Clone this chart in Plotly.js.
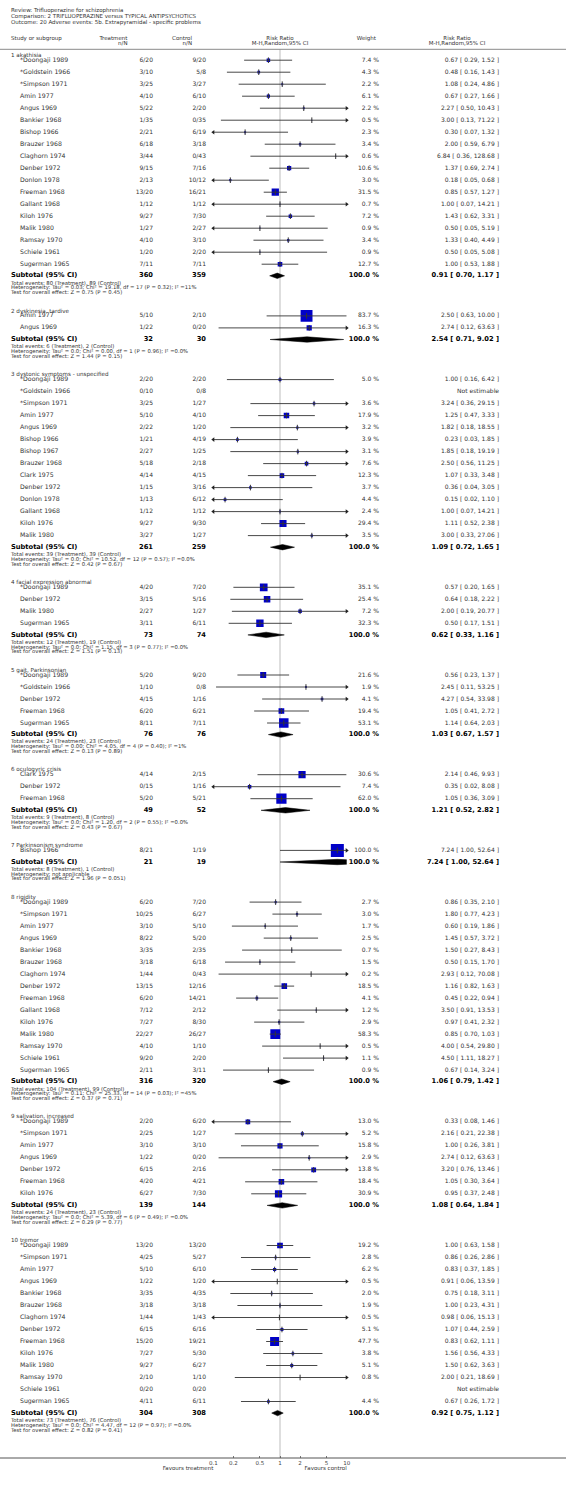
<!DOCTYPE html>
<html>
<head>
<meta charset="utf-8">
<script src="https://cdn.plot.ly/plotly-3.0.1.min.js"></script>
<style>html,body{margin:0;padding:0;background:#fff;}#chart{width:566px;height:1488px;}</style>
</head>
<body>
<div id="chart"></div>
<script>
// ---------------- DATA ----------------
const headerLines = ["Review: Trifluoperazine for schizophrenia",
  "Comparison: 2 TRIFLUOPERAZINE versus TYPICAL ANTIPSYCHOTICS",
  "Outcome: 20 Adverse events: 5b. Extrapyramidal - specific problems"];

const groupTitles = ["1 akathisia","2 dyskinesia, tardive","3 dystonic symptoms - unspecified",
  "4 facial expression abnormal","5 gait, Parkinsonian","6 oculogyric crisis","7 Parkinsonism syndrome",
  "8 rigidity","9 salivation, increased","10 tremor"];

const studyGroup = [
  1,1,1,1,1,1,1,1,1,1,1,1,1,1,1,1,1,1,
  2,2,
  3,3,3,3,3,3,3,3,3,3,3,3,3,3,
  4,4,4,4,
  5,5,5,5,5,
  6,6,6,
  7,
  8,8,8,8,8,8,8,8,8,8,8,8,8,8,8,
  9,9,9,9,9,9,9,
  10,10,10,10,10,10,10,10,10,10,10,10,10,10];

const studyNames = [
  "*Doongaji 1989","*Goldstein 1966","*Simpson 1971","Amin 1977","Angus 1969","Bankier 1968","Bishop 1966","Brauzer 1968","Claghorn 1974","Denber 1972","Donlon 1978","Freeman 1968","Gallant 1968","Kiloh 1976","Malik 1980","Ramsay 1970","Schiele 1961","Sugerman 1965",
  "Amin 1977","Angus 1969",
  "*Doongaji 1989","*Goldstein 1966","*Simpson 1971","Amin 1977","Angus 1969","Bishop 1966","Bishop 1967","Brauzer 1968","Clark 1975","Denber 1972","Donlon 1978","Gallant 1968","Kiloh 1976","Malik 1980",
  "*Doongaji 1989","Denber 1972","Malik 1980","Sugerman 1965",
  "*Doongaji 1989","*Goldstein 1966","Denber 1972","Freeman 1968","Sugerman 1965",
  "Clark 1975","Denber 1972","Freeman 1968",
  "Bishop 1966",
  "*Doongaji 1989","*Simpson 1971","Amin 1977","Angus 1969","Bankier 1968","Brauzer 1968","Claghorn 1974","Denber 1972","Freeman 1968","Gallant 1968","Kiloh 1976","Malik 1980","Ramsay 1970","Schiele 1961","Sugerman 1965",
  "*Doongaji 1989","*Simpson 1971","Amin 1977","Angus 1969","Denber 1972","Freeman 1968","Kiloh 1976",
  "*Doongaji 1989","*Simpson 1971","Amin 1977","Angus 1969","Bankier 1968","Brauzer 1968","Claghorn 1974","Denber 1972","Freeman 1968","Kiloh 1976","Malik 1980","Ramsay 1970","Schiele 1961","Sugerman 1965"];

const treatNN = [
  "6/20","3/10","3/25","4/10","5/22","1/35","2/21","6/18","3/44","9/15","2/13","13/20","1/12","9/27","1/27","4/10","1/20","7/11",
  "5/10","1/22",
  "2/20","0/10","3/25","5/10","2/22","1/21","2/27","5/18","4/14","1/15","1/13","1/12","9/27","3/27",
  "4/20","3/15","2/27","3/11",
  "5/20","1/10","4/15","6/20","8/11",
  "4/14","0/15","5/20",
  "8/21",
  "6/20","10/25","3/10","8/22","3/35","3/18","1/44","13/15","6/20","7/12","7/27","22/27","4/10","9/20","2/11",
  "2/20","2/25","3/10","1/22","6/15","4/20","6/27",
  "13/20","4/25","5/10","1/22","3/35","3/18","1/44","6/15","15/20","7/27","9/27","2/10","0/20","4/11"];

const controlNN = [
  "9/20","5/8","3/27","6/10","2/20","0/35","6/19","3/18","0/43","7/16","10/12","16/21","1/12","7/30","2/27","3/10","2/20","7/11",
  "2/10","0/20",
  "2/20","0/8","1/27","4/10","1/20","4/19","1/25","2/18","4/15","3/16","6/12","1/12","9/30","1/27",
  "7/20","5/16","1/27","6/11",
  "9/20","0/8","1/16","6/21","7/11",
  "2/15","1/16","5/21",
  "1/19",
  "7/20","6/27","5/10","5/20","2/35","6/18","0/43","12/16","14/21","2/12","8/30","26/27","1/10","2/20","3/11",
  "6/20","1/27","3/10","0/20","2/16","4/21","7/30",
  "13/20","5/27","6/10","1/20","4/35","3/18","1/43","6/16","19/21","5/30","6/27","1/10","0/20","6/11"];

const weights = [
  7.4,4.3,2.2,6.1,2.2,0.5,2.3,3.4,0.6,10.6,3.0,31.5,0.7,7.2,0.9,3.4,0.9,12.7,
  83.7,16.3,
  5.0,null,3.6,17.9,3.2,3.9,3.1,7.6,12.3,3.7,4.4,2.4,29.4,3.5,
  35.1,25.4,7.2,32.3,
  21.6,1.9,4.1,19.4,53.1,
  30.6,7.4,62.0,
  100.0,
  2.7,3.0,1.7,2.5,0.7,1.5,0.2,18.5,4.1,1.2,2.9,58.3,0.5,1.1,0.9,
  13.0,5.2,15.8,2.9,13.8,18.4,30.9,
  19.2,2.8,6.2,0.5,2.0,1.9,0.5,5.1,47.7,3.8,5.1,0.8,null,4.4];

const rrEst = [
  0.67,0.48,1.08,0.67,2.27,3.00,0.30,2.00,6.84,1.37,0.18,0.85,1.00,1.43,0.50,1.33,0.50,1.00,
  2.50,2.74,
  1.00,null,3.24,1.25,1.82,0.23,1.85,2.50,1.07,0.36,0.15,1.00,1.11,3.00,
  0.57,0.64,2.00,0.50,
  0.56,2.45,4.27,1.05,1.14,
  2.14,0.35,1.05,
  7.24,
  0.86,1.80,0.60,1.45,1.50,0.50,2.93,1.16,0.45,3.50,0.97,0.85,4.00,4.50,0.67,
  0.33,2.16,1.00,2.74,3.20,1.05,0.95,
  1.00,0.86,0.83,0.91,0.75,1.00,0.98,1.07,0.83,1.56,1.50,2.00,null,0.67];

const rrLow = [
  0.29,0.16,0.24,0.27,0.50,0.13,0.07,0.59,0.36,0.69,0.05,0.57,0.07,0.62,0.05,0.40,0.05,0.53,
  0.63,0.12,
  0.16,null,0.36,0.47,0.18,0.03,0.18,0.56,0.33,0.04,0.02,0.07,0.52,0.33,
  0.20,0.18,0.19,0.17,
  0.23,0.11,0.54,0.41,0.64,
  0.46,0.02,0.36,
  1.00,
  0.35,0.77,0.19,0.57,0.27,0.15,0.12,0.82,0.22,0.91,0.41,0.70,0.54,1.11,0.14,
  0.08,0.21,0.26,0.12,0.76,0.30,0.37,
  0.63,0.26,0.37,0.06,0.18,0.23,0.06,0.44,0.62,0.56,0.62,0.21,null,0.26];

const rrHigh = [
  1.52,1.43,4.86,1.66,10.43,71.22,1.32,6.79,128.68,2.74,0.68,1.27,14.21,3.31,5.19,4.49,5.08,1.88,
  10.00,63.63,
  6.42,null,29.15,3.33,18.55,1.85,19.19,11.25,3.48,3.05,1.10,14.21,2.38,27.06,
  1.65,2.22,20.77,1.51,
  1.37,53.25,33.98,2.72,2.03,
  9.93,8.08,3.09,
  52.64,
  2.10,4.23,1.86,3.72,8.43,1.70,70.08,1.63,0.94,13.53,2.32,1.03,29.80,18.27,3.24,
  1.46,22.38,3.81,63.63,13.46,3.64,2.48,
  1.58,2.86,1.85,13.59,3.11,4.31,15.13,2.59,1.11,4.33,3.63,18.69,null,1.72];

const subTreatTotal = [360,32,261,73,76,49,21,316,139,304];
const subControlTotal = [359,30,259,74,76,52,19,320,144,308];
const subRR = [0.91,2.54,1.09,0.62,1.03,1.21,7.24,1.06,1.08,0.92];
const subLow = [0.70,0.71,0.72,0.33,0.67,0.52,1.00,0.79,0.64,0.75];
const subHigh = [1.17,9.02,1.65,1.16,1.57,2.82,52.64,1.42,1.84,1.12];
const eventsTreat = [80,6,39,12,24,9,8,104,24,73];
const eventsControl = [89,2,39,19,23,8,1,99,23,76];
const heterogeneity = [
  "Heterogeneity: Tau² = 0.03; Chi² = 19.18, df = 17 (P = 0.32); I² =11%",
  "Heterogeneity: Tau² = 0.0; Chi² = 0.00, df = 1 (P = 0.96); I² =0.0%",
  "Heterogeneity: Tau² = 0.0; Chi² = 10.52, df = 12 (P = 0.57); I² =0.0%",
  "Heterogeneity: Tau² = 0.0; Chi² = 1.15, df = 3 (P = 0.77); I² =0.0%",
  "Heterogeneity: Tau² = 0.00; Chi² = 4.05, df = 4 (P = 0.40); I² =1%",
  "Heterogeneity: Tau² = 0.0; Chi² = 1.20, df = 2 (P = 0.55); I² =0.0%",
  "Heterogeneity: not applicable",
  "Heterogeneity: Tau² = 0.11; Chi² = 25.33, df = 14 (P = 0.03); I² =45%",
  "Heterogeneity: Tau² = 0.0; Chi² = 5.39, df = 6 (P = 0.49); I² =0.0%",
  "Heterogeneity: Tau² = 0.0; Chi² = 4.47, df = 12 (P = 0.97); I² =0.0%"];
const overallTest = ["Z = 0.75 (P = 0.45)","Z = 1.44 (P = 0.15)","Z = 0.42 (P = 0.67)","Z = 1.51 (P = 0.13)",
  "Z = 0.13 (P = 0.89)","Z = 0.43 (P = 0.67)","Z = 1.96 (P = 0.051)","Z = 0.37 (P = 0.71)",
  "Z = 0.29 (P = 0.77)","Z = 0.82 (P = 0.41)"];

const axisTicks = [0.1,0.2,0.5,1,2,5,10];
const axisTickText = ["0.1","0.2","0.5","1","2","5","10"];

// ---------------- LAYOUT CONSTANTS ----------------
const W = 566, H = 1488;
const AX_MIN = 0.1, AX_MAX = 10;
const PLOT_L = 213.3, PLOT_R = 346.7;
const X_TITLE = 11, X_NAME = 20, X_TREAT = 153, X_CTRL = 206, X_WEIGHT = 379, X_RR = 499;
const TITLE0 = 55.5, GAP_A = 4.7, PITCH = 12.0, GAP_B = 11.6, GAP_C = 7.5, LINE_D = 4.8, GAP_E = 18.3;
const AXIS_Y = 1458;
const HEADER_Y = [11, 17, 23], COLHEAD_1 = 38.3, COLHEAD_2 = 43.3, HEADER_RULE = 49.3;
const FONT = "DejaVu Sans, Verdana, sans-serif";
const TXT = "#333";

// ---------------- ROW POSITIONS ----------------
const studyY = new Array(studyNames.length);
const titleY = [], subY = [], evY = [], hetY = [], testY = [];
let cur = TITLE0;
for (let g = 0; g < groupTitles.length; g++) {
  titleY.push(cur);
  let y = cur + GAP_A, last = y;
  for (let i = 0; i < studyNames.length; i++) {
    if (studyGroup[i] === g + 1) { studyY[i] = y; last = y; y += PITCH; }
  }
  const s = last + GAP_B;
  subY.push(s); evY.push(s + GAP_C); hetY.push(s + GAP_C + LINE_D); testY.push(s + GAP_C + 2 * LINE_D);
  cur = s + GAP_C + 2 * LINE_D + GAP_E;
}

const f2 = v => v.toFixed(2);
const ciText = (e, l, h) => f2(e) + " [ " + f2(l) + ", " + f2(h) + " ]";

// ---------------- TRACES ----------------
const traces = [];
traces.push({x: [1, 1], y: [HEADER_RULE, AXIS_Y], xaxis: 'x', yaxis: 'y', mode: 'lines',
  line: {color: '#d6d6d6', width: 1.6}, hoverinfo: 'skip'});

const sqX = [], sqY = [], sqS = [];
const ciX = [], ciY = [], tkX = [], tkY = [];
const arLX = [], arLY = [], arRX = [], arRY = [];
for (let i = 0; i < studyNames.length; i++) {
  if (rrEst[i] === null) continue;
  const y = studyY[i];
  sqX.push(rrEst[i]); sqY.push(y); sqS.push(13 * Math.sqrt(weights[i] / 100));
  ciX.push(rrLow[i], rrHigh[i], null); ciY.push(y, y, null);
  tkX.push(rrEst[i]); tkY.push(y);
  if (rrLow[i] < AX_MIN) { arLX.push(AX_MIN); arLY.push(y); }
  if (rrHigh[i] > AX_MAX) { arRX.push(AX_MAX); arRY.push(y); }
}
traces.push({x: sqX, y: sqY, xaxis: 'x', yaxis: 'y', mode: 'markers',
  marker: {symbol: 'square', size: sqS, color: '#0000c8', opacity: 1, line: {width: 0}}, hoverinfo: 'skip'});
traces.push({x: ciX, y: ciY, xaxis: 'x', yaxis: 'y', mode: 'lines',
  line: {color: '#333', width: 0.9}, connectgaps: false, hoverinfo: 'skip'});
traces.push({x: tkX, y: tkY, xaxis: 'x', yaxis: 'y', mode: 'markers',
  marker: {symbol: 'line-ns-open', size: 4, color: '#333', opacity: 1, line: {width: 1, color: '#333'}}, hoverinfo: 'skip'});
traces.push({x: arLX, y: arLY, xaxis: 'x', yaxis: 'y', mode: 'markers', cliponaxis: false,
  marker: {symbol: 'triangle-left', size: 4, color: '#222', opacity: 1}, hoverinfo: 'skip'});
traces.push({x: arRX, y: arRY, xaxis: 'x', yaxis: 'y', mode: 'markers', cliponaxis: false,
  marker: {symbol: 'triangle-right', size: 4, color: '#222', opacity: 1}, hoverinfo: 'skip'});

const dX = [], dY = [];
const DH = 2.7;
for (let g = 0; g < groupTitles.length; g++) {
  const y = subY[g];
  dX.push(subLow[g], subRR[g], subHigh[g], subRR[g], subLow[g], null);
  dY.push(y, y - DH, y, y + DH, y, null);
}
traces.push({x: dX, y: dY, xaxis: 'x', yaxis: 'y', mode: 'lines', fill: 'toself',
  fillcolor: '#000', line: {color: '#000', width: 0.5}, hoverinfo: 'skip'});

function txt(xs, ys, texts, pos, size, color, weight) {
  traces.push({x: xs, y: ys, text: texts, xaxis: 'x2', yaxis: 'y', mode: 'text',
    textposition: pos, cliponaxis: false, hoverinfo: 'skip',
    textfont: {family: FONT, size: size, color: color, weight: weight || 'normal'}});
}
const rep = (v, n) => new Array(n).fill(v);

// header
txt(rep(X_TITLE, 3), HEADER_Y, headerLines, 'middle right', 5.5, TXT);
txt([X_TITLE], [COLHEAD_1], ["Study or subgroup"], 'middle right', 5.5, TXT);
txt([127.5, 127.5, 192, 192, 376], [COLHEAD_1, COLHEAD_2, COLHEAD_1, COLHEAD_2, COLHEAD_1],
    ["Treatment", "n/N", "Control", "n/N", "Weight"], 'middle left', 5.5, TXT);
txt([280, 280, 457, 457], [COLHEAD_1, COLHEAD_2, COLHEAD_1, COLHEAD_2],
    ["Risk Ratio", "M-H,Random,95% CI", "Risk Ratio", "M-H,Random,95% CI"], 'middle center', 5.5, TXT);

// study rows
const wTxt = weights.map(w => w === null ? "" : w.toFixed(1) + " %");
const rTxt = rrEst.map((e, i) => e === null ? "Not estimable" : ciText(e, rrLow[i], rrHigh[i]));
txt(rep(X_NAME, studyNames.length), studyY, studyNames, 'middle right', 6.2, TXT);
txt(rep(X_TREAT, studyNames.length), studyY, treatNN, 'middle left', 6.0, TXT);
txt(rep(X_CTRL, studyNames.length), studyY, controlNN, 'middle left', 6.0, TXT);
txt(rep(X_WEIGHT, studyNames.length), studyY, wTxt, 'middle left', 6.0, TXT);
txt(rep(X_RR, studyNames.length), studyY, rTxt, 'middle left', 6.0, TXT);

// subgroup titles, subtotals, statistics
const nG = groupTitles.length;
txt(rep(X_TITLE, nG), titleY, groupTitles, 'middle right', 5.6, TXT);
txt(rep(X_TITLE, nG), subY, rep("Subtotal (95% CI)", nG), 'middle right', 6.7, '#000', 'bold');
txt(rep(X_TREAT, nG), subY, subTreatTotal.map(String), 'middle left', 6.7, '#000', 'bold');
txt(rep(X_CTRL, nG), subY, subControlTotal.map(String), 'middle left', 6.7, '#000', 'bold');
txt(rep(X_WEIGHT, nG), subY, rep("100.0 %", nG), 'middle left', 6.7, '#000', 'bold');
txt(rep(X_RR, nG), subY, subRR.map((e, g) => ciText(e, subLow[g], subHigh[g])), 'middle left', 6.7, '#000', 'bold');
txt(rep(X_TITLE, nG), evY, eventsTreat.map((t, g) => "Total events: " + t + " (Treatment), " + eventsControl[g] + " (Control)"), 'middle right', 5.3, TXT);
txt(rep(X_TITLE, nG), hetY, heterogeneity, 'middle right', 5.3, TXT);
txt(rep(X_TITLE, nG), testY, overallTest.map(t => "Test for overall effect: " + t), 'middle right', 5.3, TXT);

txt([PLOT_L, PLOT_R], [AXIS_Y + 11, AXIS_Y + 11], ["Favours treatment", "Favours control"], 'middle left', 5.5, TXT);

const layout = {
  width: W, height: H,
  margin: {l: 0, r: 0, t: 0, b: 0, pad: 0},
  paper_bgcolor: '#fff', plot_bgcolor: 'rgba(0,0,0,0)',
  showlegend: false,
  font: {family: FONT, size: 6, color: TXT},
  xaxis: {type: 'log', range: [Math.log10(AX_MIN), Math.log10(AX_MAX)],
    domain: [PLOT_L / W, PLOT_R / W], anchor: 'free', position: (H - AXIS_Y) / H,
    tickvals: axisTicks, ticktext: axisTickText, ticks: 'inside', ticklen: 2.5, tickwidth: 0.8,
    tickcolor: '#555', tickfont: {size: 5.5, color: '#444', family: FONT},
    showline: false, showgrid: false, zeroline: false, fixedrange: true},
  xaxis2: {range: [0, W], domain: [0, 1], anchor: 'y', visible: false, showgrid: false, zeroline: false, fixedrange: true},
  yaxis: {range: [H, 0], domain: [0, 1], visible: false, showgrid: false, zeroline: false, fixedrange: true},
  shapes: [
    {type: 'line', xref: 'paper', yref: 'y', x0: 0, x1: 1, y0: HEADER_RULE, y1: HEADER_RULE, line: {color: '#8a8a8a', width: 1}},
    {type: 'line', xref: 'paper', yref: 'y', x0: 0, x1: 1, y0: AXIS_Y, y1: AXIS_Y, line: {color: '#555', width: 1}}
  ]
};

Plotly.newPlot('chart', traces, layout, {staticPlot: true, displayModeBar: false});
</script>
</body>
</html>
